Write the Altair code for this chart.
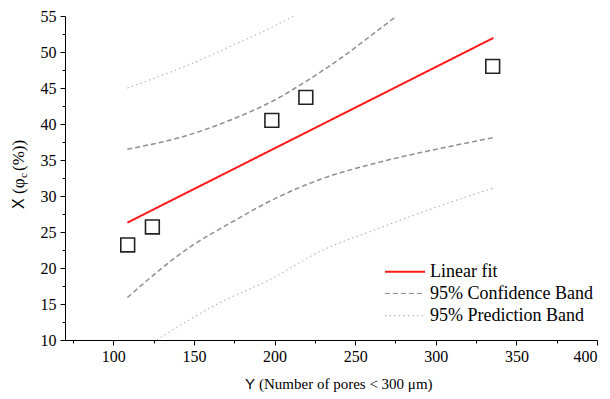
import altair as alt
import pandas as pd

# ---- data ----
pts_x = [108.9, 124.2, 198.3, 219.4, 335.3]
pts_y = [23.2, 25.7, 40.5, 43.7, 48.0]

fit_x = [108.7, 335.7]
fit_y = [26.3, 51.95]

conf_up_x = [108.7, 145.5, 176.5, 197.2, 219.4, 242.7, 263.4, 275.8]
conf_up_y = [36.5, 38.4, 40.9, 43.0, 45.9, 49.4, 52.9, 55.0]
conf_lo_x = [108.7, 145.5, 176.5, 197.2, 228.2, 263.4, 304.7, 335.7]
conf_lo_y = [15.9, 22.6, 26.75, 29.3, 32.3, 34.6, 36.7, 38.1]

pred_up_x = [108.7, 145.5, 180.6, 197.2, 212.0]
pred_up_y = [45.0, 48.1, 51.6, 53.3, 55.0]
pred_lo_x = [126.9, 166.2, 197.2, 228.2, 263.4, 304.7, 335.7]
pred_lo_y = [10.0, 15.2, 18.4, 22.3, 25.4, 28.8, 31.1]

series_names = ["Linear fit", "95% Confidence Band", "95% Prediction Band"]
series_colors = ["#ff1a1a", "#8f8f8f", "#a0a0a0"]
series_dash = [[1, 0], [5, 3], [1.4, 3.2]]
series_width = [2, 1, 1]

x_ticks = [75, 100, 125, 150, 175, 200, 225, 250, 275, 300, 325, 350, 375, 400]
y_ticks = [10, 12.5, 15, 17.5, 20, 22.5, 25, 27.5, 30, 32.5, 35, 37.5, 40,
           42.5, 45, 47.5, 50, 52.5, 55]

SERIF = "Liberation Serif"
SANS = "Liberation Sans"

# ---- tables ----
rows = []
def add(series, part, xs, ys):
    for a, b in zip(xs, ys):
        rows.append({"series": series, "part": part, "x": a, "y": b})

add(series_names[0], "fit", fit_x, fit_y)
add(series_names[1], "conf_up", conf_up_x, conf_up_y)
add(series_names[1], "conf_lo", conf_lo_x, conf_lo_y)
add(series_names[2], "pred_up", pred_up_x, pred_up_y)
add(series_names[2], "pred_lo", pred_lo_x, pred_lo_y)
lines_df = pd.DataFrame(rows)
pts_df = pd.DataFrame({"x": pts_x, "y": pts_y})

x_scale = alt.Scale(domain=[70, 400], nice=False, zero=False)
y_scale = alt.Scale(domain=[10, 55], nice=False, zero=False)

def make_x_axis():
    return alt.Axis(
        values=x_ticks, title=None, grid=False,
        labelExpr="datum.value % 50 === 0 ? datum.label : ''",
        format="d", labelOverlap=False, labelFont=SERIF, labelFontSize=16,
        labelColor="black", domainColor="black", tickColor="black",
        tickSize={"condition": {"test": "datum.value % 50 === 0", "value": 5}, "value": 3},
        labelPadding=3,
    )

def make_y_axis():
    return alt.Axis(
        values=y_ticks, title=None, grid=False,
        labelExpr="datum.value % 5 === 0 ? datum.label : ''",
        format=".0f", labelOverlap=False, labelFont=SERIF, labelFontSize=16,
        labelColor="black", domainColor="black", tickColor="black",
        tickSize={"condition": {"test": "datum.value % 5 === 0", "value": 5}, "value": 3},
        labelPadding=4,
    )

lines = alt.Chart(lines_df).mark_line(interpolate="monotone", clip=True).encode(
    x=alt.X("x:Q", scale=x_scale, axis=make_x_axis()),
    y=alt.Y("y:Q", scale=y_scale, axis=make_y_axis()),
    detail="part:N",
    color=alt.Color("series:N",
                    scale=alt.Scale(domain=series_names, range=series_colors),
                    legend=None),
    strokeDash=alt.StrokeDash("series:N",
                              scale=alt.Scale(domain=series_names, range=series_dash),
                              legend=None),
    strokeWidth=alt.StrokeWidth("series:N",
                                scale=alt.Scale(domain=series_names, range=series_width),
                                legend=None),
)

points = alt.Chart(pts_df).mark_point(
    shape="square", filled=False, size=190, stroke="#222222", strokeWidth=1.6,
    opacity=1,
).encode(
    x=alt.X("x:Q", scale=x_scale, axis=make_x_axis()),
    y=alt.Y("y:Q", scale=y_scale, axis=make_y_axis()),
)

one = pd.DataFrame({"a": [0]})
def label(text, x, y, font, size, angle=0, align="left"):
    return alt.Chart(one).mark_text(
        text=text, font=font, fontSize=size, color="black",
        align=align, baseline="middle", angle=angle,
    ).encode(x=alt.value(x), y=alt.value(y))

# manual legend (symbol samples + labels)
legend_layers = []
leg_y = [255.7, 277.5, 299.7]
for i, name in enumerate(series_names):
    legend_layers.append(
        alt.Chart(one).mark_rule(
            color=series_colors[i], strokeDash=series_dash[i],
            strokeWidth=series_width[i],
        ).encode(x=alt.value(320), x2=alt.value(360), y=alt.value(leg_y[i]))
    )
    legend_layers.append(label(name, 365, leg_y[i], SERIF, 18))

titles = [
    # x axis title
    label("Y", 180, 367.5, SANS, 15),
    label("(Number of pores < 300 \u03bcm)", 194, 367.5, SERIF, 15),
    # y axis title (rotated)
    label("X", -46, 193, SANS, 16, angle=270),
    label("(\u03c6", -46, 178, SERIF, 17, angle=270),
    label("c", -41, 162, SERIF, 11, angle=270),
    label("(%))", -46, 155, SERIF, 17, angle=270),
]

chart = alt.layer(lines, points, *legend_layers, *titles).properties(
    width=532, height=324,
    autosize=alt.AutoSizeParams(type="none"),
    padding={"left": 65, "top": 16, "right": 13, "bottom": 59},
).configure_view(stroke=None)

chart.save("out.html", embed_options={"renderer": "svg", "actions": False})
